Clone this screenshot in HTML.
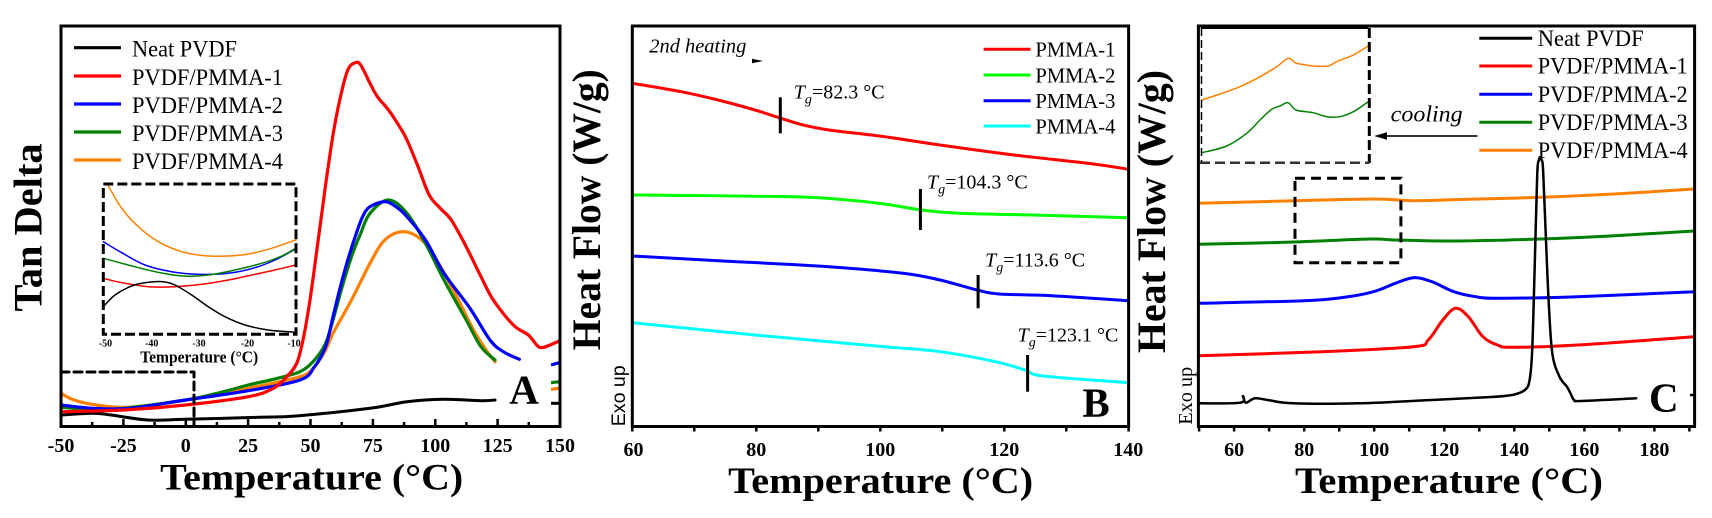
<!DOCTYPE html>
<html>
<head>
<meta charset="utf-8">
<style>
  html,body{margin:0;padding:0;background:#fff;}
  svg{display:block;}
  text{font-family:"Liberation Serif","Times New Roman",serif;fill:#000;}
  .b{font-weight:bold;}
  .s{font-family:"Liberation Sans",Arial,sans-serif;}
  polyline,path{fill:none;stroke-linejoin:round;stroke-linecap:round;}
</style>
</head>
<body>
<svg id="fig" width="1712" height="518" viewBox="0 0 1712 518" xmlns="http://www.w3.org/2000/svg">
<rect x="0" y="0" width="1712" height="518" fill="#fff"/>

<!-- ================= PANEL A ================= -->
<g>
  <polyline stroke="#000" stroke-width="3" points="61,415 92.5,413.3 111,415 148,420 185,419.3 259,417.3 296,416 370,408.3 407,401.7 444,399.3 481,400.7 495,400"/>
  <polyline stroke="#ff8000" stroke-width="3.2" points="61,393.3 74,400 96.2,405 129.5,407.3 185.7,400 248.3,388.3 300,376.7 314.5,366.7 325.6,350 333,333.3 351.5,300 370,263.3 384.8,240 403.3,231.7 421.8,240 436.6,260 455,293.3 473.5,330 488.3,353.3 495,361.7"/>
  <polyline stroke="#008000" stroke-width="3.2" points="61,407.3 111,409.3 185.7,400 222,392 248.3,385 273.3,379.3 300,371.7 314.5,360 325.6,343.3 333,320 342.2,286.7 351.5,256.7 360.7,233.3 370,213.3 388.5,200 407,213.3 425.5,243.3 444,280 466.2,320 481,346.7 495,360"/>
  <polyline stroke="#0000ff" stroke-width="3.2" points="61,405 92.5,408.3 129.5,408.3 185.7,400 248.3,390.7 300,380 314.5,366.7 325.6,346.7 333,316.7 340.4,286.7 347.8,260 355.2,236.7 362.6,216.7 370,206.7 384.8,201.7 395.9,206.7 407,216.7 425.5,240 444,273.3 470,308.3 490,340 503.3,351.7 519.3,359.3"/>
  <polyline stroke="#ff0000" stroke-width="3.2" points="61,411.7 123.3,410 185.7,405 248.3,396.7 273.3,388.3 286.7,376.7 296.7,363.3 303,340 310,300 318.2,240 325.6,185 333,135 340.4,97 347.8,70 355.2,62.7 360.7,65 370,83.3 377.4,96.7 388.5,110 399.6,126.7 407,140 418.1,166.7 429.2,195 440.3,208.3 451.3,220 466.2,246.7 481,276.7 493.3,300 513.3,325 528.3,335 536.7,345 541.7,347.7 550,345 559.3,341"/>
  <line x1="551" y1="365" x2="559.3" y2="362.7" stroke="#0000ff" stroke-width="3.2"/>
  <line x1="551" y1="382.7" x2="559.3" y2="381.7" stroke="#008000" stroke-width="3.2"/>
  <line x1="551" y1="389.3" x2="559.3" y2="388.3" stroke="#ff8000" stroke-width="3.2"/>
  <line x1="551" y1="403.3" x2="559.3" y2="403.3" stroke="#000" stroke-width="3"/>

  <path d="M61,372 H194 V426" stroke="#000" stroke-width="3" stroke-dasharray="8 5" stroke-linecap="butt"/>

  <polyline stroke="#ff8000" stroke-width="1.5" points="106.7,183 121.7,208.3 138.3,226.7 158.3,241.7 181.7,251.7 205,255.7 228.3,256 248.3,254 271.7,248.3 295.7,240"/>
  <polyline stroke="#0000ff" stroke-width="1.5" points="103.3,241.7 121.7,252.7 145,265 171.7,271.7 198.3,274.3 228.3,273.3 255,267.7 275,260 295.7,249"/>
  <polyline stroke="#008000" stroke-width="1.5" points="103.3,258.3 128.3,265 155,271.7 181.7,276 208.3,275 235,270 261.7,263.3 281.7,256 295.7,248.3"/>
  <polyline stroke="#ff0000" stroke-width="1.5" points="103.3,278.3 121.7,282.7 148.3,286.7 175,286.7 201.7,284.3 228.3,280 255,274.3 275,270 295.7,265"/>
  <polyline stroke="#000" stroke-width="1.5" points="103.3,306.7 115,295 131.7,286 148.3,282.3 163.3,281.7 175,285 191.7,295 208.3,306.7 225,316.7 245,325 268.3,330 295.7,332.3"/>
  <rect x="103.3" y="184" width="192.7" height="150.3" fill="none" stroke="#000" stroke-width="3" stroke-dasharray="10 4"/>
  <g class="b" font-size="10" text-anchor="middle" font-weight="bold">
    <text x="105.5" y="346.5">-50</text>
    <text x="151.7" y="346.5">-40</text>
    <text x="199" y="346.5">-30</text>
    <text x="247.5" y="346.5">-20</text>
    <text x="294" y="346.5">-10</text>
  </g>
  <text class="b" x="199.2" y="362.3" font-size="17" text-anchor="middle" textLength="118" lengthAdjust="spacingAndGlyphs">Temperature (°C)</text>

  <g stroke-width="3.2">
    <line x1="74" y1="47.7" x2="121" y2="47.7" stroke="#000"/>
    <line x1="74" y1="76" x2="121" y2="76" stroke="#ff0000"/>
    <line x1="74" y1="104" x2="121" y2="104" stroke="#0000ff"/>
    <line x1="74" y1="132" x2="121" y2="132" stroke="#008000"/>
    <line x1="74" y1="160" x2="121" y2="160" stroke="#ff8000"/>
  </g>
  <g font-size="23">
    <text x="132" y="56.5" textLength="105" lengthAdjust="spacingAndGlyphs">Neat PVDF</text>
    <text x="132" y="85" textLength="151" lengthAdjust="spacingAndGlyphs">PVDF/PMMA-1</text>
    <text x="132" y="113" textLength="151" lengthAdjust="spacingAndGlyphs">PVDF/PMMA-2</text>
    <text x="132" y="141" textLength="151" lengthAdjust="spacingAndGlyphs">PVDF/PMMA-3</text>
    <text x="132" y="169" textLength="151" lengthAdjust="spacingAndGlyphs">PVDF/PMMA-4</text>
  </g>

  <text class="b" x="509.3" y="403.3" font-size="41">A</text>

  <rect x="61" y="26" width="499" height="400.5" fill="none" stroke="#000" stroke-width="3"/>
  <g stroke="#000" stroke-width="2.5">
    <line x1="123.4" y1="426" x2="123.4" y2="419"/>
    <line x1="185.8" y1="426" x2="185.8" y2="419"/>
    <line x1="248.1" y1="426" x2="248.1" y2="419"/>
    <line x1="310.5" y1="426" x2="310.5" y2="419"/>
    <line x1="372.9" y1="426" x2="372.9" y2="419"/>
    <line x1="435.3" y1="426" x2="435.3" y2="419"/>
    <line x1="497.6" y1="426" x2="497.6" y2="419"/>
    <line x1="92.2" y1="426" x2="92.2" y2="422"/>
    <line x1="154.6" y1="426" x2="154.6" y2="422"/>
    <line x1="216.9" y1="426" x2="216.9" y2="422"/>
    <line x1="279.3" y1="426" x2="279.3" y2="422"/>
    <line x1="341.7" y1="426" x2="341.7" y2="422"/>
    <line x1="404.1" y1="426" x2="404.1" y2="422"/>
    <line x1="466.4" y1="426" x2="466.4" y2="422"/>
    <line x1="528.8" y1="426" x2="528.8" y2="422"/>
  </g>
  <g class="b" font-size="20" text-anchor="middle" font-weight="bold">
    <text x="61" y="452">-50</text>
    <text x="123.4" y="452">-25</text>
    <text x="185.8" y="452">0</text>
    <text x="248.1" y="452">25</text>
    <text x="310.5" y="452">50</text>
    <text x="372.9" y="452">75</text>
    <text x="435.3" y="452">100</text>
    <text x="497.6" y="452">125</text>
    <text x="560" y="452">150</text>
  </g>
  <text class="b" x="311.7" y="489.3" font-size="37" text-anchor="middle" textLength="303" lengthAdjust="spacingAndGlyphs">Temperature (°C)</text>
  <text class="b" transform="translate(41.5,227.5) rotate(-90)" font-size="40" text-anchor="middle" textLength="168" lengthAdjust="spacingAndGlyphs">Tan Delta</text>
</g>

<!-- ================= PANEL B ================= -->
<g>
  <polyline stroke="#ff0000" stroke-width="3" points="632.3,83.3 681,91.7 718,100 755,110 780.9,118.3 803.1,125 829,130 884.5,136.7 940,145 1014,155 1088,163.3 1128.6,169.3"/>
  <polyline stroke="#00ff00" stroke-width="3" points="632.3,195 792,196.7 847.5,200 884.5,204 921.5,210 958.5,213.3 1032.4,215 1128.6,217.7"/>
  <polyline stroke="#0000ff" stroke-width="3" points="632.3,256 718,260.7 829,266.7 903,273.3 940,280 977,290 999.2,294 1051,295.7 1128.6,300.7"/>
  <polyline stroke="#00ffff" stroke-width="3" points="632.3,322.7 755,335 884.5,346.7 940,351.7 995.5,361.7 1025,370 1043.5,376 1128.6,382.7"/>
  <g stroke="#000" stroke-width="3">
    <line x1="780.3" y1="97.3" x2="780.3" y2="133.3"/>
    <line x1="920.4" y1="189" x2="920.4" y2="230"/>
    <line x1="978.1" y1="275" x2="978.1" y2="308.3"/>
    <line x1="1027.6" y1="355" x2="1027.6" y2="391.7"/>
  </g>
  <g font-size="20">
    <text x="793.8" y="98.3"><tspan font-style="italic">T</tspan><tspan font-style="italic" font-size="14" dy="5">g</tspan><tspan dy="-5">=82.3 °C</tspan></text>
    <text x="927" y="188.3"><tspan font-style="italic">T</tspan><tspan font-style="italic" font-size="14" dy="5">g</tspan><tspan dy="-5">=104.3 °C</tspan></text>
    <text x="985.1" y="266.7"><tspan font-style="italic">T</tspan><tspan font-style="italic" font-size="14" dy="5">g</tspan><tspan dy="-5">=113.6 °C</tspan></text>
    <text x="1017.6" y="341.7"><tspan font-style="italic">T</tspan><tspan font-style="italic" font-size="14" dy="5">g</tspan><tspan dy="-5">=123.1 °C</tspan></text>
  </g>
  <text x="649.3" y="52.7" font-size="20" font-style="italic" textLength="97" lengthAdjust="spacingAndGlyphs">2nd heating</text>
  <polygon points="752,58.7 763.3,61 752,63.3" fill="#000"/>

  <g stroke-width="3">
    <line x1="983.6" y1="49.3" x2="1030.6" y2="49.3" stroke="#ff0000"/>
    <line x1="983.6" y1="75" x2="1030.6" y2="75" stroke="#00ff00"/>
    <line x1="983.6" y1="100.7" x2="1030.6" y2="100.7" stroke="#0000ff"/>
    <line x1="983.6" y1="126" x2="1030.6" y2="126" stroke="#00ffff"/>
  </g>
  <g font-size="21">
    <text x="1035.4" y="56.7" textLength="80" lengthAdjust="spacingAndGlyphs">PMMA-1</text>
    <text x="1035.4" y="82.4" textLength="80" lengthAdjust="spacingAndGlyphs">PMMA-2</text>
    <text x="1035.4" y="108.1" textLength="80" lengthAdjust="spacingAndGlyphs">PMMA-3</text>
    <text x="1035.4" y="133.4" textLength="80" lengthAdjust="spacingAndGlyphs">PMMA-4</text>
  </g>

  <text class="b" x="1082.4" y="416.7" font-size="41">B</text>
  <text class="s" transform="translate(625,395.8) rotate(-90)" font-size="19" text-anchor="middle" textLength="61" lengthAdjust="spacingAndGlyphs">Exo up</text>

  <rect x="632.3" y="26" width="496.3" height="400.5" fill="none" stroke="#000" stroke-width="3"/>
  <g stroke="#000" stroke-width="2.5">
    <line x1="632.3" y1="426" x2="632.3" y2="431.5"/>
    <line x1="694.3" y1="426" x2="694.3" y2="431.5"/>
    <line x1="756.3" y1="426" x2="756.3" y2="431.5"/>
    <line x1="818.3" y1="426" x2="818.3" y2="431.5"/>
    <line x1="880.3" y1="426" x2="880.3" y2="431.5"/>
    <line x1="942.3" y1="426" x2="942.3" y2="431.5"/>
    <line x1="1004.3" y1="426" x2="1004.3" y2="431.5"/>
    <line x1="1066.3" y1="426" x2="1066.3" y2="431.5"/>
    <line x1="1128.6" y1="426" x2="1128.6" y2="431.5"/>
  </g>
  <g class="b" font-size="20" text-anchor="middle" font-weight="bold">
    <text x="633.5" y="456">60</text>
    <text x="756.3" y="456">80</text>
    <text x="880.3" y="456">100</text>
    <text x="1004.3" y="456">120</text>
    <text x="1128.3" y="456">140</text>
  </g>
  <text class="b" x="880.7" y="493" font-size="37" text-anchor="middle" textLength="305" lengthAdjust="spacingAndGlyphs">Temperature (°C)</text>
  <text class="b" transform="translate(600,209.7) rotate(-90)" font-size="40" text-anchor="middle" textLength="281" lengthAdjust="spacingAndGlyphs">Heat Flow (W/g)</text>
</g>

<!-- ================= PANEL C ================= -->
<g>
  <polyline stroke="#ff8000" stroke-width="3" points="1198.4,203.3 1285.9,201 1373.5,199 1413.6,200.7 1468.3,199.3 1541.3,197.3 1614.3,194 1694.5,189"/>
  <polyline stroke="#008000" stroke-width="3" points="1198.4,244.3 1285.9,242.3 1369.8,239 1395.4,240 1457.4,241 1541.3,239 1614.3,235.7 1694.5,231"/>
  <polyline stroke="#0000ff" stroke-width="3" points="1198.4,303.3 1304.2,300.7 1344.3,297.3 1373.5,291.7 1395.4,283.3 1413.6,277.7 1431.9,281.7 1453.8,291.7 1475.6,296.7 1497.5,298.3 1577.8,296.7 1694.5,291.7"/>
  <polyline stroke="#ff0000" stroke-width="3" points="1198.4,355.7 1322.4,351.7 1413.6,346.7 1428.2,340 1442.8,320 1455.6,308.3 1468.3,316.7 1482.9,336.7 1497.5,345 1512.1,347.3 1577.8,345 1694.5,336.7"/>
  <polyline stroke="#000" stroke-width="2.5" points="1198.4,403.3 1240.3,402.7 1242.9,396 1245.8,402.7 1254.9,398.3 1267.7,400 1293.2,403.3 1358.9,403.3 1431.9,400 1486.6,397.3 1512.1,395 1524.9,390 1529.6,380 1532.2,350 1534.7,266.7 1537.2,175 1539,160 1540.2,157.3 1541.6,160 1543.1,170 1545.7,233.3 1548.6,300 1552.3,353.3 1559.5,376.7 1566.9,386.7 1570.5,393.3 1574.1,400 1581.4,401 1636.2,398.3"/>
  <line x1="1690" y1="395" x2="1695" y2="395" stroke="#000" stroke-width="2.5"/>

  <rect x="1295" y="178.3" width="105.9" height="84.4" fill="none" stroke="#000" stroke-width="3" stroke-dasharray="10 6"/>

  <polyline stroke="#ff8000" stroke-width="1.5" points="1201.7,100 1220,94 1240,86.7 1260,76.7 1276.7,66.7 1288.3,58.3 1295,62.7 1300,64 1313.3,66 1328.3,66 1336.7,61.7 1353.3,55 1368.3,46"/>
  <polyline stroke="#008000" stroke-width="1.5" points="1201.7,152.7 1226.7,146 1246.7,133.3 1260,120 1271.7,109.3 1280,106 1288.3,102.7 1296,110 1313.3,112.7 1326.7,116.7 1340,116.7 1353.3,111.7 1368.3,101.7"/>
  <line x1="1201" y1="28.3" x2="1368.3" y2="28.3" stroke="#000" stroke-width="1.5"/>
  <line x1="1201.5" y1="28" x2="1201.5" y2="163" stroke="#000" stroke-width="1.5" stroke-dasharray="8 4"/>
  <line x1="1369.3" y1="28" x2="1369.3" y2="163" stroke="#000" stroke-width="3" stroke-dasharray="10 4"/>
  <line x1="1200" y1="162.7" x2="1369.3" y2="162.7" stroke="#333" stroke-width="2.5" stroke-dasharray="10 5"/>

  <line x1="1384" y1="136" x2="1477.5" y2="136" stroke="#333" stroke-width="2"/>
  <polygon points="1374.3,136 1387,132.3 1387,139.7" fill="#000"/>
  <text x="1390.7" y="121.7" font-size="23" font-style="italic" textLength="72" lengthAdjust="spacingAndGlyphs">cooling</text>

  <g stroke-width="3">
    <line x1="1479.3" y1="38.3" x2="1532.2" y2="38.3" stroke="#000"/>
    <line x1="1479.3" y1="66" x2="1532.2" y2="66" stroke="#ff0000"/>
    <line x1="1479.3" y1="94.3" x2="1532.2" y2="94.3" stroke="#0000ff"/>
    <line x1="1479.3" y1="122.3" x2="1532.2" y2="122.3" stroke="#008000"/>
    <line x1="1479.3" y1="150.3" x2="1532.2" y2="150.3" stroke="#ff8000"/>
  </g>
  <g font-size="23">
    <text x="1537.7" y="46" textLength="106" lengthAdjust="spacingAndGlyphs">Neat PVDF</text>
    <text x="1537.7" y="73.7" textLength="150" lengthAdjust="spacingAndGlyphs">PVDF/PMMA-1</text>
    <text x="1537.7" y="102" textLength="150" lengthAdjust="spacingAndGlyphs">PVDF/PMMA-2</text>
    <text x="1537.7" y="130" textLength="150" lengthAdjust="spacingAndGlyphs">PVDF/PMMA-3</text>
    <text x="1537.7" y="158" textLength="150" lengthAdjust="spacingAndGlyphs">PVDF/PMMA-4</text>
  </g>

  <text class="b" x="1649" y="411.7" font-size="41">C</text>
  <text transform="translate(1192,395.8) rotate(-90)" font-size="20" text-anchor="middle" textLength="58" lengthAdjust="spacingAndGlyphs">Exo up</text>

  <rect x="1198.4" y="26" width="496.2" height="400.5" fill="none" stroke="#000" stroke-width="3"/>
  <g stroke="#000" stroke-width="2.5">
    <line x1="1199.1" y1="426" x2="1199.1" y2="431.5"/>
    <line x1="1234.1" y1="426" x2="1234.1" y2="431.5"/>
    <line x1="1269.1" y1="426" x2="1269.1" y2="431.5"/>
    <line x1="1304.2" y1="426" x2="1304.2" y2="431.5"/>
    <line x1="1339.2" y1="426" x2="1339.2" y2="431.5"/>
    <line x1="1374.2" y1="426" x2="1374.2" y2="431.5"/>
    <line x1="1409.2" y1="426" x2="1409.2" y2="431.5"/>
    <line x1="1444.3" y1="426" x2="1444.3" y2="431.5"/>
    <line x1="1479.3" y1="426" x2="1479.3" y2="431.5"/>
    <line x1="1514.3" y1="426" x2="1514.3" y2="431.5"/>
    <line x1="1549.3" y1="426" x2="1549.3" y2="431.5"/>
    <line x1="1584.4" y1="426" x2="1584.4" y2="431.5"/>
    <line x1="1619.4" y1="426" x2="1619.4" y2="431.5"/>
    <line x1="1654.4" y1="426" x2="1654.4" y2="431.5"/>
    <line x1="1689.4" y1="426" x2="1689.4" y2="431.5"/>
  </g>
  <g class="b" font-size="20" text-anchor="middle" font-weight="bold">
    <text x="1234.1" y="456">60</text>
    <text x="1304.2" y="456">80</text>
    <text x="1374.2" y="456">100</text>
    <text x="1444.3" y="456">120</text>
    <text x="1514.3" y="456">140</text>
    <text x="1584.4" y="456">160</text>
    <text x="1654.4" y="456">180</text>
  </g>
  <text class="b" x="1449" y="493" font-size="37" text-anchor="middle" textLength="308" lengthAdjust="spacingAndGlyphs">Temperature (°C)</text>
  <text class="b" transform="translate(1165,211.5) rotate(-90)" font-size="40" text-anchor="middle" textLength="283" lengthAdjust="spacingAndGlyphs">Heat Flow (W/g)</text>
</g>
</svg>
<script>
(function(){
  var NS="http://www.w3.org/2000/svg";
  var pls=document.querySelectorAll("#fig polyline");
  for(var k=0;k<pls.length;k++){
    var pl=pls[k];
    var raw=pl.getAttribute("points").trim().split(/\s+/);
    var p=[];
    for(var i=0;i<raw.length;i++){var a=raw[i].split(",");p.push([parseFloat(a[0]),parseFloat(a[1])]);}
    if(p.length<3) continue;
    var d="M"+p[0][0]+","+p[0][1];
    for(var i=0;i<p.length-1;i++){
      var p0=p[i-1]||p[i],p1=p[i],p2=p[i+1],p3=p[i+2]||p[i+1];
      var c1x=p1[0]+(p2[0]-p0[0])/6,c1y=p1[1]+(p2[1]-p0[1])/6;
      var c2x=p2[0]-(p3[0]-p1[0])/6,c2y=p2[1]-(p3[1]-p1[1])/6;
      d+=" C"+c1x.toFixed(2)+","+c1y.toFixed(2)+" "+c2x.toFixed(2)+","+c2y.toFixed(2)+" "+p2[0]+","+p2[1];
    }
    var path=document.createElementNS(NS,"path");
    path.setAttribute("d",d);
    path.setAttribute("stroke",pl.getAttribute("stroke"));
    path.setAttribute("stroke-width",pl.getAttribute("stroke-width"));
    path.setAttribute("fill","none");
    pl.parentNode.replaceChild(path,pl);
  }
})();
</script>
</body>
</html>
